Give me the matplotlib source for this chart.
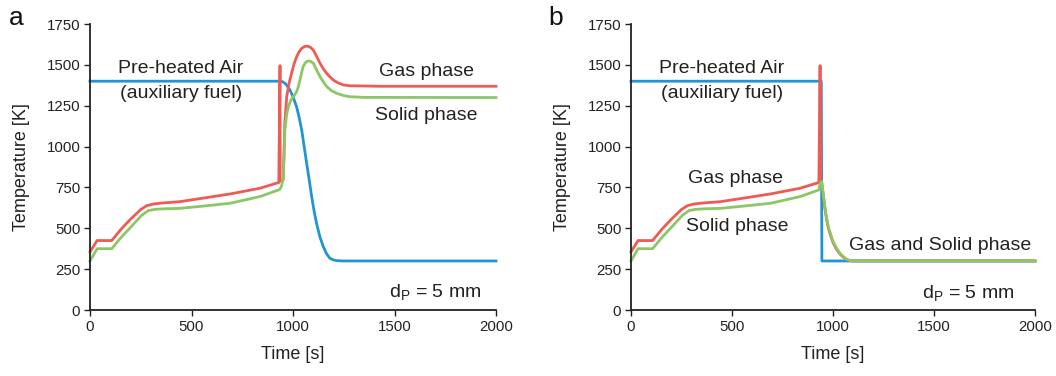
import matplotlib
matplotlib.use('Agg')
import matplotlib.pyplot as plt

plt.rcParams['font.family'] = ['Liberation Sans', 'DejaVu Sans']
plt.rcParams['mathtext.default'] = 'regular'

RED = '#ef5a55'
GREEN = '#8cc665'
BLUE = '#1f96d2'

# early heating part, shared by both panels
t_gas_0 = [0, 35, 107, 150, 197, 250, 279, 310, 350, 443, 560, 690, 837, 930]
T_gas_0 = [355, 425, 425, 490, 552, 615, 638, 648, 654, 663, 685, 710, 745, 780]
t_sol_0 = [0, 35, 107, 150, 197, 255, 287, 320, 360, 443, 560, 690, 837, 930]
T_sol_0 = [300, 375, 375, 440, 502, 580, 608, 616, 619, 622, 636, 653, 694, 735]

# panel a: gas phase after ignition
t_gas_a = [936, 937, 944, 952, 960, 969, 981, 993, 1005, 1018, 1030, 1043, 1057, 1072,
           1086, 1100, 1116, 1133, 1150, 1166, 1183, 1199, 1222, 1248, 1280, 1430, 2000]
T_gas_a = [1495, 800, 785, 796, 1150, 1305, 1390, 1448, 1505, 1550, 1580, 1601, 1612, 1615,
           1607, 1591, 1553, 1510, 1475, 1448, 1425, 1407, 1390, 1377, 1372, 1369, 1369]
# panel a: solid phase after ignition
t_sol_a = [936, 944, 952, 960, 968, 977, 990, 1001, 1010, 1018, 1026, 1034, 1042, 1050,
           1060, 1072, 1086, 1100, 1116, 1133, 1150, 1166, 1190, 1215, 1250, 1281, 1350, 2000]
T_sol_a = [740, 760, 816, 1101, 1190, 1244, 1285, 1305, 1320, 1336, 1365, 1407, 1450, 1489,
           1512, 1524, 1522, 1510, 1470, 1428, 1395, 1367, 1342, 1326, 1312, 1305, 1301, 1300]
# panel a: pre-heated air
t_air_a = [0, 936, 948, 960, 972, 985, 1000, 1018, 1030, 1043, 1055, 1067, 1080, 1092,
           1104, 1116, 1132, 1149, 1165, 1182, 1198, 1215, 1248, 2000]
T_air_a = [1400, 1400, 1397, 1388, 1370, 1346, 1305, 1242, 1180, 1101, 1000, 900, 795, 694,
           605, 530, 450, 388, 345, 316, 307, 302, 300, 300]

# panel b: gas phase after ignition
t_gas_b = [936, 939, 944, 952, 960, 968, 977, 989, 1001, 1018, 1035, 1050, 1068, 1085,
           1100, 2000]
T_gas_b = [1495, 800, 780, 700, 620, 555, 500, 452, 410, 370, 342, 324, 308, 302,
           300, 300]
# panel b: solid phase after ignition
t_sol_b = [936, 944, 952, 960, 968, 977, 989, 1001, 1018, 1035, 1050, 1068, 1085, 1100,
           2000]
T_sol_b = [775, 785, 710, 632, 565, 510, 460, 418, 378, 347, 328, 310, 303, 300, 300]
# panel b: pre-heated air
t_air_b = [0, 942, 945, 2000]
T_air_b = [1400, 1400, 300, 300]

xticks = [0, 500, 1000, 1500, 2000]
yticks = [0, 250, 500, 750, 1000, 1250, 1500, 1750]

fig = plt.figure(figsize=(10.56, 3.76), dpi=100)
W, H = 1056, 376
ax_a = fig.add_axes([90 / W, 1 - 310 / H, 406 / W, 286 / H])
ax_b = fig.add_axes([631 / W, 1 - 310 / H, 404 / W, 286 / H])


def style(ax):
    ax.set_xlim(0, 2000)
    ax.set_ylim(0, 1750)
    ax.set_xticks(xticks)
    ax.set_yticks(yticks)
    for s in ['top', 'right']:
        ax.spines[s].set_visible(False)
    for s in ['left', 'bottom']:
        ax.spines[s].set_linewidth(1.3)
        ax.spines[s].set_color('#222222')
    ax.tick_params(direction='out', length=4, width=1.0, labelsize=10.8,
                   colors='#222222', pad=3)
    ax.set_xlabel('Time [s]', fontsize=13, color='#222222', labelpad=9)
    ax.set_ylabel('Temperature [K]', fontsize=13, color='#222222', labelpad=12)


lw = 2.0
ax_a.plot(t_air_a, T_air_a, color=BLUE, lw=lw, clip_on=False)
ax_a.plot(t_gas_0 + t_gas_a, T_gas_0 + T_gas_a, color=RED, lw=lw, clip_on=False)
ax_a.plot(t_sol_0 + t_sol_a, T_sol_0 + T_sol_a, color=GREEN, lw=lw, clip_on=False)
style(ax_a)

ax_b.plot(t_air_b, T_air_b, color=BLUE, lw=lw, clip_on=False)
ax_b.plot(t_gas_0 + t_gas_b, T_gas_0 + T_gas_b, color=RED, lw=lw, clip_on=False)
ax_b.plot(t_sol_0 + t_sol_b, T_sol_0 + T_sol_b, color=GREEN, lw=lw, clip_on=False)
style(ax_b)

fs = 14
kw = dict(ha='center', va='center', fontsize=fs, color='#222222')
ax_a.text(448, 1475, 'Pre-heated Air', **kw)
ax_a.text(448, 1322, '(auxiliary fuel)', **kw)
ax_a.text(1660, 1457, 'Gas phase', **kw)
ax_a.text(1655, 1193, 'Solid phase', **kw)
ax_a.text(1700, 110, 'd$_{P}$ = 5 mm', **kw)

ax_b.text(450, 1475, 'Pre-heated Air', **kw)
ax_b.text(450, 1322, '(auxiliary fuel)', **kw)
ax_b.text(515, 802, 'Gas phase', **kw)
ax_b.text(525, 508, 'Solid phase', **kw)
ax_b.text(1530, 392, 'Gas and Solid phase', **kw)
ax_b.text(1668, 104, 'd$_{P}$ = 5 mm', **kw)

fig.text(16 / W, 1 - 18 / H, 'a', fontsize=19, ha='center', va='center', color='#111111')
fig.text(556 / W, 1 - 18 / H, 'b', fontsize=19, ha='center', va='center', color='#111111')

fig.savefig('out.png', dpi=100)
